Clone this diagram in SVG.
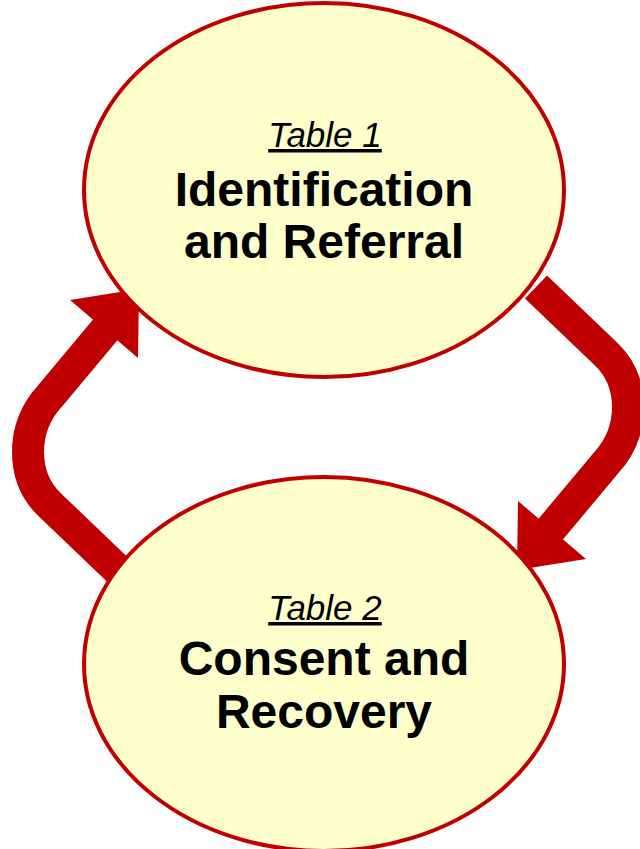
<svg xmlns="http://www.w3.org/2000/svg" width="640" height="849" viewBox="0 0 640 849">
  <style>
    .flow { fill: none; stroke: #c00000; stroke-width: 32; stroke-linejoin: round; }
    .head { fill: #c00000; }
    .node { fill: #ffffcc; stroke: #c00000; stroke-width: 4; }
    .ref { font-family: "Liberation Sans", Arial, sans-serif; font-style: italic; font-size: 35px; text-decoration: underline; fill: #000; text-anchor: middle; }
    .title { font-family: "Liberation Sans", Arial, sans-serif; font-weight: bold; font-size: 48px; fill: #000; text-anchor: middle; }
  </style>
  <defs>
    <g id="cycle-arrow">
      <path class="flow" d="M 120,572 L 50,505 Q 28,484 28,452 Q 28,420 50,396 L 106,329"/>
      <polygon class="head" points="70,300 139,289 138,358"/>
    </g>
  </defs>
  <rect width="640" height="849" fill="#ffffff"/>
  <g id="connectors">
    <use href="#cycle-arrow"/>
    <use href="#cycle-arrow" transform="rotate(180 328 429.5)"/>
  </g>
  <g id="identification">
    <ellipse class="node" cx="324" cy="190" rx="240" ry="187"/>
    <text class="ref" x="325" y="147">Table 1</text>
    <text class="title" x="324" y="206">Identification</text>
    <text class="title" x="324" y="258">and Referral</text>
  </g>
  <g id="consent">
    <ellipse class="node" cx="324" cy="664" rx="240" ry="187"/>
    <text class="ref" x="325" y="620">Table 2</text>
    <text class="title" x="324" y="675">Consent and</text>
    <text class="title" x="324" y="728">Recovery</text>
  </g>
</svg>
